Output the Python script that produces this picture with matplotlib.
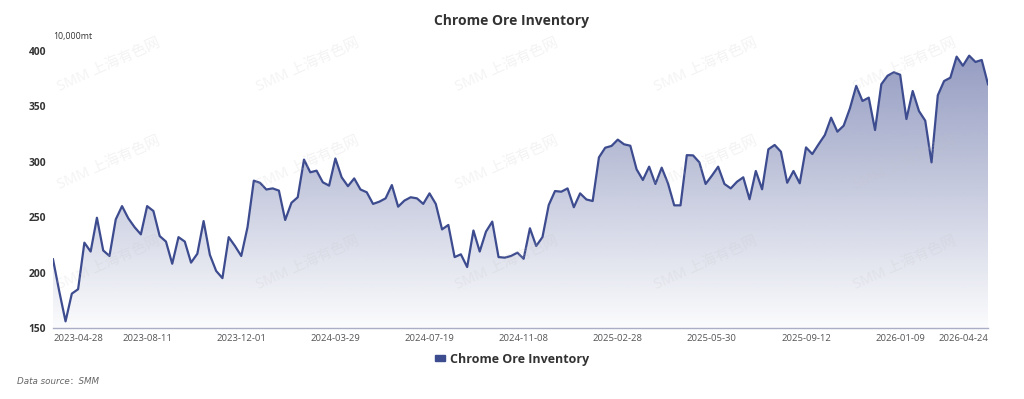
import numpy as np
import matplotlib
matplotlib.use("Agg")
import matplotlib.pyplot as plt
from matplotlib.patches import Polygon, Patch

plt.rcParams['font.family'] = ['Open Sans', 'Noto Sans CJK SC', 'DejaVu Sans']

# ---------------- data ----------------
series_name = "Chrome Ore Inventory"
values = [
    212, 183, 156, 181, 185, 227, 219, 249.5, 220, 215,
    248, 260, 249, 241, 234.5, 260, 255.6, 233, 228, 208,
    232, 228, 209, 217, 246.5, 216, 201.5, 195, 232, 224,
    215, 241, 283, 281, 275, 276, 274, 247.5, 263, 268,
    302, 290.5, 292, 281.5, 278.5, 303, 286, 278, 285, 275,
    272.5, 262, 264, 267, 279, 259.5, 265, 268, 267, 262,
    271.5, 262, 239, 243, 214, 216.5, 205, 238, 219, 237,
    246, 214, 213.5, 215, 218, 212.5, 240, 224, 232, 261,
    273.6, 273, 276, 259, 271.5, 266, 264.6, 304, 312.7, 314.3,
    320, 315.8, 314.5, 293.2, 283.6, 295.6, 280, 294.7, 280.6, 260.7,
    260.7, 306, 305.8, 299.5, 280, 287.5, 295.6, 280, 276, 282,
    286, 266.2, 291.7, 275.2, 311.3, 315.2, 309.1, 281.1, 291.7, 280.6,
    313, 307, 315.8, 324.2, 339.8, 327.2, 332.6, 348.3, 368.5, 354.9,
    357.9, 328.7, 370, 377.7, 380.8, 378.6, 338.6, 363.9, 345.8, 337.1,
    299.5, 360, 372.9, 375.9, 394.9, 386.7, 395.8, 390.1, 391.9, 370,
]
tick_labels = ["2023-04-28", "2023-08-11", "2023-12-01", "2024-03-29",
               "2024-07-19", "2024-11-08", "2025-02-28", "2025-05-30",
               "2025-09-12", "2026-01-09", "2026-04-24"]
label_every = 15
y_ticks = [150, 200, 250, 300, 350, 400]
unit_label = "10,000mt"
title = "Chrome Ore Inventory"
source_text = "Data source：SMM"
watermark = "SMM 上海有色网"

# ---------------- figure ----------------
LINE = "#3d4b8f"
fig = plt.figure(figsize=(10.24, 3.99), dpi=100)
ax = fig.add_axes([53/1024, 1-328/399, (988-53)/1024, (328-51)/399])

n = len(values)
x = np.arange(n)
y = np.array(values, dtype=float)
ymin, ymax = y_ticks[0], y_ticks[-1]

# gradient area fill
grad_top = y.max()
alpha = np.linspace(0.55, 0.02, 256)
rgba = np.zeros((256, 1, 4))
rgba[..., 0] = 0x3d / 255
rgba[..., 1] = 0x4b / 255
rgba[..., 2] = 0x8f / 255
rgba[:, 0, 3] = alpha
im = ax.imshow(rgba, extent=[0, n - 1, ymin, grad_top], origin='upper',
               aspect='auto', interpolation='bilinear', zorder=1)
verts = [(0, ymin)] + list(zip(x, y)) + [(n - 1, ymin)]
poly = Polygon(verts, closed=True, facecolor='none', edgecolor='none',
               transform=ax.transData)
ax.add_patch(poly)
im.set_clip_path(poly)

ax.plot(x, y, color=LINE, lw=1.6, zorder=4, solid_joinstyle='round')

ax.set_xlim(0, n - 1)
ax.set_ylim(ymin, ymax)

tick_pos = list(range(0, n, label_every))[:len(tick_labels) - 1] + [n - 1]
ax.set_xticks(tick_pos)
ax.set_xticklabels(tick_labels, fontsize=6.8, color='#555555')
tl = ax.get_xticklabels()
tl[0].set_ha('left')
tl[-1].set_ha('right')
ax.set_yticks(y_ticks)
ax.set_yticklabels([str(v) for v in y_ticks], fontsize=7.4,
                   fontweight='bold', color='#333333')
ax.tick_params(axis='both', length=0)
ax.tick_params(axis='x', pad=4)
ax.tick_params(axis='y', pad=5)

for s in ['top', 'right', 'left']:
    ax.spines[s].set_visible(False)
ax.spines['bottom'].set_color('#a9aec6')
ax.spines['bottom'].set_linewidth(1.0)
ax.spines['bottom'].set_zorder(5)

# watermarks
for cx in [109, 308, 507, 706, 905]:
    for cy in [65, 163, 263]:
        fig.text(cx / 1024, 1 - cy / 399, watermark, fontsize=10.5,
                 rotation=24, ha='center', va='center', color='#c4c4c4',
                 alpha=0.2, zorder=3)

# texts
fig.text(0.5, 1 - 21 / 399, title, ha='center', va='center',
         fontsize=10, fontweight='bold', color='#333333')
fig.text(53 / 1024, 1 - 37 / 399, unit_label, ha='left', va='center',
         fontsize=6.3, color='#333333')
fig.text(17 / 1024, 1 - 382 / 399, source_text, ha='left', va='center',
         fontsize=6.3, color='#666666', style='italic',
         family=['DejaVu Sans', 'Noto Sans CJK SC'])

handle = Patch(facecolor=LINE, edgecolor=LINE)
fig.legend([handle], [series_name], loc='center',
           bbox_to_anchor=(0.5, 1 - 359 / 399), frameon=False,
           handlelength=0.8, handleheight=0.35, handletextpad=0.4,
           prop={'weight': 'bold', 'size': 9}, labelcolor='#333333')

fig.savefig("out.png", dpi=100)
